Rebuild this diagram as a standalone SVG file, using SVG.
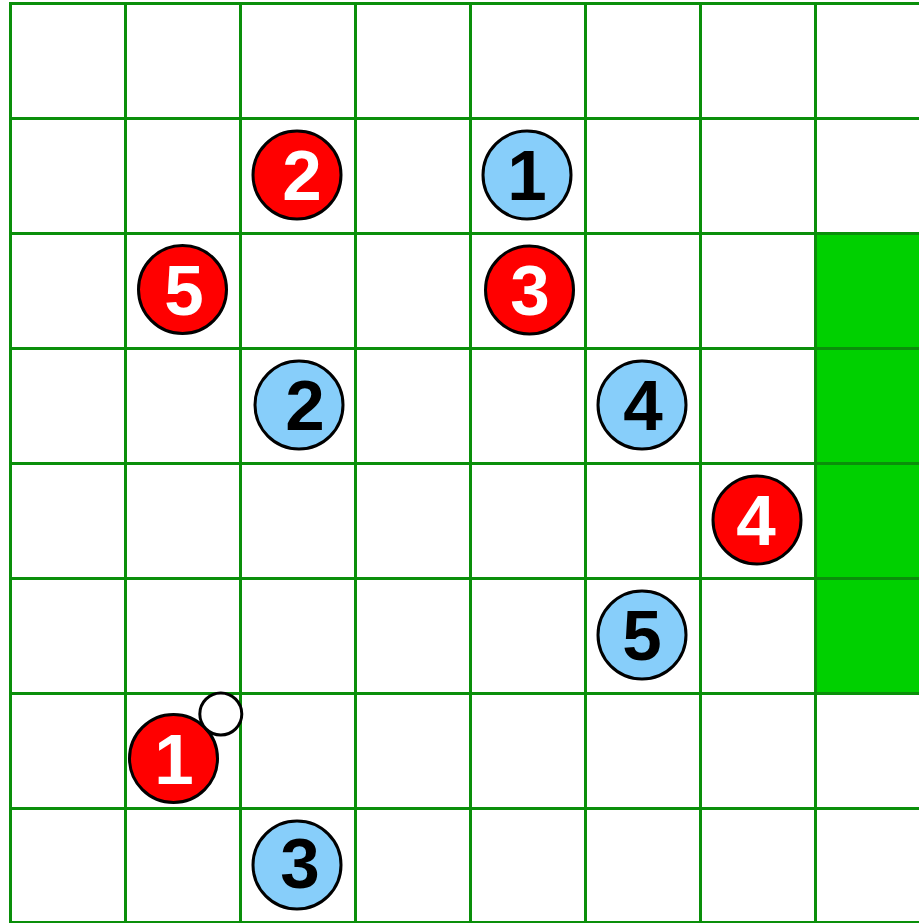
<svg xmlns="http://www.w3.org/2000/svg" width="919" height="923" viewBox="0 0 919 923">
<style>
.grid line{stroke:#0a8f0a;stroke-width:3}
.cell{fill:#00d000}
.tok{stroke:#000;stroke-width:3}
.red{fill:#ff0000}
.blue{fill:#87cefa}
.lbl{font-family:"Liberation Sans",Arial,sans-serif;font-weight:bold;font-size:71px;text-anchor:middle}
.w{fill:#fff}
.k{fill:#000}
</style>
<rect width="919" height="923" fill="#fff"/>
<g id="goal">
<rect class="cell" x="815.5" y="233.5" width="110" height="460"/>
</g>
<g class="grid" id="grid">
<line x1="10.5" y1="2" x2="10.5" y2="923"/>
<line x1="125.5" y1="2" x2="125.5" y2="923"/>
<line x1="240.5" y1="2" x2="240.5" y2="923"/>
<line x1="355.5" y1="2" x2="355.5" y2="923"/>
<line x1="470.5" y1="2" x2="470.5" y2="923"/>
<line x1="585.5" y1="2" x2="585.5" y2="923"/>
<line x1="700.5" y1="2" x2="700.5" y2="923"/>
<line x1="815.5" y1="2" x2="815.5" y2="923"/>
<line x1="9" y1="3.5" x2="919" y2="3.5"/>
<line x1="9" y1="118.5" x2="919" y2="118.5"/>
<line x1="9" y1="233.5" x2="919" y2="233.5"/>
<line x1="9" y1="348.5" x2="919" y2="348.5"/>
<line x1="9" y1="463.5" x2="919" y2="463.5"/>
<line x1="9" y1="578.5" x2="919" y2="578.5"/>
<line x1="9" y1="693.5" x2="919" y2="693.5"/>
<line x1="9" y1="808.5" x2="919" y2="808.5"/>
<line x1="9" y1="922.5" x2="919" y2="922.5"/>
</g>
<g id="connectors"></g>
<g id="red2"><circle class="tok red" cx="297" cy="175" r="44"/><text class="lbl w" x="302" y="200">2</text></g>
<g id="blue1"><circle class="tok blue" cx="527" cy="175" r="44"/><text class="lbl k" x="527" y="200">1</text></g>
<g id="red5"><circle class="tok red" cx="182.5" cy="289.5" r="44"/><text class="lbl w" x="184" y="314.5">5</text></g>
<g id="red3"><circle class="tok red" cx="529.5" cy="290" r="44"/><text class="lbl w" x="530" y="315">3</text></g>
<g id="blue2"><circle class="tok blue" cx="299" cy="405" r="44"/><text class="lbl k" x="305" y="430">2</text></g>
<g id="blue4"><circle class="tok blue" cx="642" cy="405" r="44"/><text class="lbl k" x="643" y="430">4</text></g>
<g id="red4"><circle class="tok red" cx="757" cy="520" r="44"/><text class="lbl w" x="756" y="545">4</text></g>
<g id="blue5"><circle class="tok blue" cx="642" cy="635" r="44"/><text class="lbl k" x="642" y="660">5</text></g>
<g id="red1"><circle class="tok red" cx="173.5" cy="758.5" r="44"/><text class="lbl w" x="174" y="783.5">1</text></g>
<g id="marker"><circle class="tok" fill="#fff" cx="220.8" cy="714" r="21"/></g>
<g id="blue3"><circle class="tok blue" cx="297" cy="865" r="44"/><text class="lbl k" x="300" y="888">3</text></g>
</svg>
